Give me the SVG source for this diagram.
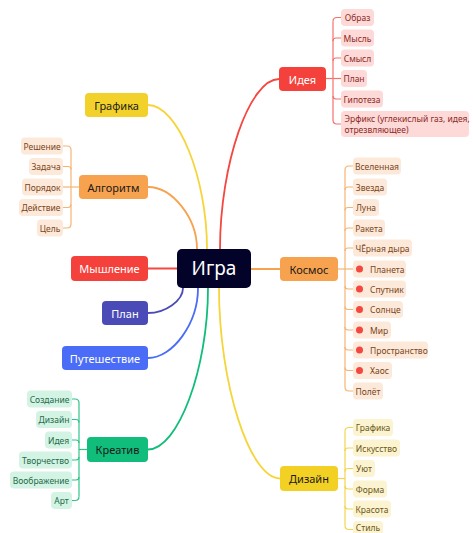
<svg xmlns="http://www.w3.org/2000/svg" width="473" height="533" viewBox="0 0 473 533">
<style>
text{font-family:"Noto Sans","Open Sans",sans-serif;dominant-baseline:central}
.m{font-size:11px;text-anchor:middle}
.cen{font-size:19px;text-anchor:middle;fill:#fff}
.w{fill:#fff}.k{fill:#1a1a1a}
.c{font-size:8.5px;text-anchor:middle}
.s{text-anchor:start}
.conn{fill:none;stroke-width:1.8;stroke-linecap:round}
.br{fill:none;stroke-width:1.2}
.red{stroke:#f4473f}.yel{stroke:#f5d53a}.ora{stroke:#f7a24f}.pur{stroke:#4b4bb8}.blu{stroke:#4a6cf6}.grn{stroke:#10bd7a}
.bred{stroke:#f6706a}.bora{stroke:#f6b474}.byel{stroke:#f3d54c}.bgrn{stroke:#2ec488}
.fr rect{fill:#fdd9d7}.fr text{fill:#8c2a26}
.fo rect{fill:#fde9d9}.fo text{fill:#7a4520}
.fy rect{fill:#fcf3d1}.fy text{fill:#6b5816}
.fg rect{fill:#d3f3e4}.fg text{fill:#1f6b4a}
.dot{fill:#f4473f}
</style>
<g id="connectors">
<path class="conn red" d="M220,249 C220,164 249.5,79 279,79"/>
<path class="conn yel" d="M207,249 C207,177 177.5,105 148,105"/>
<path class="conn ora" d="M197,249 C197,218 172.5,187 148,187"/>
<path class="conn red" d="M177,268.5 L148,268.5"/>
<path class="conn ora" d="M251,269 L280,269"/>
<path class="conn pur" d="M183,288 C183,300.5 165.5,313 148,313"/>
<path class="conn blu" d="M198,288 C198,323 173,358 148,358"/>
<path class="conn grn" d="M208,288 C208,368.75 178,449.5 148,449.5"/>
<path class="conn yel" d="M219,288 C219,383 249.5,478.5 280,478.5"/>
<g class="br bred">
<path d="M326,78.5 L341,78.5"/>
<path d="M333,21.5 L333,120"/>
<path d="M333,21.5 Q333,17.5 337,17.5 L341,17.5"/>
<path d="M333,120 Q333,124 337,124 L341,124"/>
<path d="M333,41 Q333,38 336,38 L341,38"/>
<path d="M333,61 Q333,58 336,58 L341,58"/>
<path d="M333,96 Q333,99 336,99 L341,99"/>
</g>
<g class="br bora">
<path d="M338,269 L353,269"/>
<path d="M345,170 L345,387"/>
<path d="M345,170 Q345,166 349,166 L353,166"/>
<path d="M345,387 Q345,391 349,391 L353,391"/>
<path d="M345,190 Q345,187 348,187 L353,187"/>
<path d="M345,210.5 Q345,207.5 348,207.5 L353,207.5"/>
<path d="M345,231 Q345,228 348,228 L353,228"/>
<path d="M345,251 Q345,248 348,248 L353,248"/>
<path d="M345,286 Q345,289 348,289 L353,289"/>
<path d="M345,306.5 Q345,309.5 348,309.5 L353,309.5"/>
<path d="M345,327 Q345,330 348,330 L353,330"/>
<path d="M345,347 Q345,350 348,350 L353,350"/>
<path d="M345,367.5 Q345,370.5 348,370.5 L353,370.5"/>
</g>
<g class="br byel">
<path d="M338,478.5 L345,478.5"/>
<path d="M345,431.5 L345,525.5"/>
<path d="M345,431.5 Q345,427.5 349,427.5 L353,427.5"/>
<path d="M345,525.5 Q345,529.5 349,529.5 L353,529.5"/>
<path d="M345,451 Q345,448 348,448 L353,448"/>
<path d="M345,471.5 Q345,468.5 348,468.5 L353,468.5"/>
<path d="M345,486 Q345,489 348,489 L353,489"/>
<path d="M345,506 Q345,509 348,509 L353,509"/>
</g>
<g class="br bora">
<path d="M79,187 L63,187"/>
<path d="M71,150 L71,224"/>
<path d="M71,150 Q71,146 67,146 L63,146"/>
<path d="M71,224 Q71,228 67,228 L63,228"/>
<path d="M71,169.5 Q71,166.5 68,166.5 L63,166.5"/>
<path d="M71,204.5 Q71,207.5 68,207.5 L63,207.5"/>
</g>
<g class="br bgrn">
<path d="M87,449.5 L79,449.5"/>
<path d="M79,403 L79,496.5"/>
<path d="M79,403 Q79,399 75,399 L72,399"/>
<path d="M79,496.5 Q79,500.5 75,500.5 L72,500.5"/>
<path d="M79,422.5 Q79,419.5 76,419.5 L72,419.5"/>
<path d="M79,443 Q79,440 76,440 L72,440"/>
<path d="M79,457 Q79,460 76,460 L72,460"/>
<path d="M79,477 Q79,480 76,480 L72,480"/>
</g>
</g>
<g id="igra"><rect x="177" y="249" width="74" height="39" rx="5" fill="#03032a"/><text class="cen" x="214" y="268">Игра</text></g>
<g id="ideya"><rect x="279" y="67" width="47" height="24" rx="4" fill="#f5413b"/><text class="m w" x="302.5" y="79">Идея</text></g>
<g id="grafika"><rect x="85" y="93" width="63" height="24" rx="4" fill="#f2d12a"/><text class="m k" x="116.5" y="105">Графика</text></g>
<g id="algoritm"><rect x="79" y="175" width="69" height="24" rx="4" fill="#f7a24f"/><text class="m k" x="113.5" y="187">Алгоритм</text></g>
<g id="myshlenie"><rect x="71" y="256" width="77" height="25" rx="4" fill="#f5413b"/><text class="m w" x="109.5" y="268.5">Мышление</text></g>
<g id="kosmos"><rect x="280" y="257" width="58" height="24" rx="4" fill="#f7a24f"/><text class="m k" x="309" y="269">Космос</text></g>
<g id="plan"><rect x="102" y="301" width="46" height="24" rx="4" fill="#4b4bb8"/><text class="m w" x="125" y="313">План</text></g>
<g id="puteshestvie"><rect x="62" y="346" width="86" height="24" rx="4" fill="#4a6cf6"/><text class="m w" x="105" y="358">Путешествие</text></g>
<g id="kreativ"><rect x="87" y="437" width="61" height="25" rx="4" fill="#10bd7a"/><text class="m k" x="117.5" y="449.5">Креатив</text></g>
<g id="dizain"><rect x="280" y="466" width="58" height="25" rx="4" fill="#f2d024"/><text class="m k" x="309" y="478.5">Дизайн</text></g>
<g class="fr">
<g id="i1"><rect x="341" y="9" width="33" height="17" rx="4"/><text class="c" x="357.5" y="17.5">Образ</text></g>
<g id="i2"><rect x="341" y="29.5" width="33" height="17" rx="4"/><text class="c" x="357.5" y="38">Мысль</text></g>
<g id="i3"><rect x="341" y="49.5" width="33" height="17" rx="4"/><text class="c" x="357.5" y="58">Смысл</text></g>
<g id="i4"><rect x="341" y="70" width="26" height="17" rx="4"/><text class="c" x="354" y="78.5">План</text></g>
<g id="i5"><rect x="341" y="90.5" width="42" height="17" rx="4"/><text class="c" x="362" y="99">Гипотеза</text></g>
<g id="i6"><rect x="341" y="111" width="128" height="26" rx="4"/><text class="c s" x="344.5" y="118.5">Эрфикс (углекислый газ, идея,</text><text class="c s" x="344.5" y="129.5">отрезвляющее)</text></g>
</g>
<g class="fo">
<g id="k1"><rect x="353" y="157.5" width="48" height="17" rx="4"/><text class="c" x="377" y="166">Вселенная</text></g>
<g id="k2"><rect x="353" y="178.5" width="34" height="17" rx="4"/><text class="c" x="370" y="187">Звезда</text></g>
<g id="k3"><rect x="353" y="199" width="26" height="17" rx="4"/><text class="c" x="366" y="207.5">Луна</text></g>
<g id="k4"><rect x="353" y="219.5" width="32" height="17" rx="4"/><text class="c" x="369" y="228">Ракета</text></g>
<g id="k5"><rect x="353" y="239.5" width="59" height="17" rx="4"/><text class="c" x="382.5" y="248">ЧЁрная дыра</text></g>
<g id="k6"><rect x="353" y="260.5" width="53" height="17" rx="4"/><circle class="dot" cx="359.5" cy="269" r="3.5"/><text class="c s" x="370" y="269">Планета</text></g>
<g id="k7"><rect x="353" y="280.5" width="53" height="17" rx="4"/><circle class="dot" cx="359.5" cy="289" r="3.5"/><text class="c s" x="370" y="289">Спутник</text></g>
<g id="k8"><rect x="353" y="301" width="50" height="17" rx="4"/><circle class="dot" cx="359.5" cy="309.5" r="3.5"/><text class="c s" x="370" y="309.5">Солнце</text></g>
<g id="k9"><rect x="353" y="321.5" width="38" height="17" rx="4"/><circle class="dot" cx="359.5" cy="330" r="3.5"/><text class="c s" x="370" y="330">Мир</text></g>
<g id="k10"><rect x="353" y="341.5" width="75" height="17" rx="4"/><circle class="dot" cx="359.5" cy="350" r="3.5"/><text class="c s" x="370" y="350">Пространство</text></g>
<g id="k11"><rect x="353" y="362" width="39" height="17" rx="4"/><circle class="dot" cx="359.5" cy="370.5" r="3.5"/><text class="c s" x="370" y="370.5">Хаос</text></g>
<g id="k12"><rect x="353" y="382.5" width="30" height="17" rx="4"/><text class="c" x="368" y="391">Полёт</text></g>
</g>
<g class="fy">
<g id="d1"><rect x="353" y="419" width="40" height="17" rx="4"/><text class="c" x="373" y="427.5">Графика</text></g>
<g id="d2"><rect x="353" y="439.5" width="47" height="17" rx="4"/><text class="c" x="376.5" y="448">Искусство</text></g>
<g id="d3"><rect x="353" y="460" width="22" height="17" rx="4"/><text class="c" x="364" y="468.5">Уют</text></g>
<g id="d4"><rect x="353" y="480.5" width="34" height="17" rx="4"/><text class="c" x="370" y="489">Форма</text></g>
<g id="d5"><rect x="353" y="500.5" width="38" height="17" rx="4"/><text class="c" x="372" y="509">Красота</text></g>
<g id="d6"><rect x="353" y="521" width="30" height="17" rx="4"/><text class="c" x="368" y="527.5">Стиль</text></g>
</g>
<g class="fo">
<g id="a1"><rect x="21" y="137.5" width="42" height="17" rx="4"/><text class="c" x="42" y="146">Решение</text></g>
<g id="a2"><rect x="29" y="158" width="34" height="17" rx="4"/><text class="c" x="46" y="166.5">Задача</text></g>
<g id="a3"><rect x="22" y="178.5" width="41" height="17" rx="4"/><text class="c" x="42.5" y="187">Порядок</text></g>
<g id="a4"><rect x="19" y="199" width="44" height="17" rx="4"/><text class="c" x="41" y="207.5">Действие</text></g>
<g id="a5"><rect x="37" y="219.5" width="26" height="17" rx="4"/><text class="c" x="50" y="228">Цель</text></g>
</g>
<g class="fg">
<g id="c1"><rect x="27" y="390.5" width="45" height="17" rx="4"/><text class="c" x="49.5" y="399">Создание</text></g>
<g id="c2"><rect x="36" y="411" width="36" height="17" rx="4"/><text class="c" x="54" y="419.5">Дизайн</text></g>
<g id="c3"><rect x="45" y="431.5" width="27" height="17" rx="4"/><text class="c" x="58.5" y="440">Идея</text></g>
<g id="c4"><rect x="19" y="451.5" width="53" height="17" rx="4"/><text class="c" x="45.5" y="460">Творчество</text></g>
<g id="c5"><rect x="10" y="471.5" width="62" height="17" rx="4"/><text class="c" x="41" y="480">Воображение</text></g>
<g id="c6"><rect x="51" y="492" width="21" height="17" rx="4"/><text class="c" x="61.5" y="500.5">Арт</text></g>
</g>
</svg>
